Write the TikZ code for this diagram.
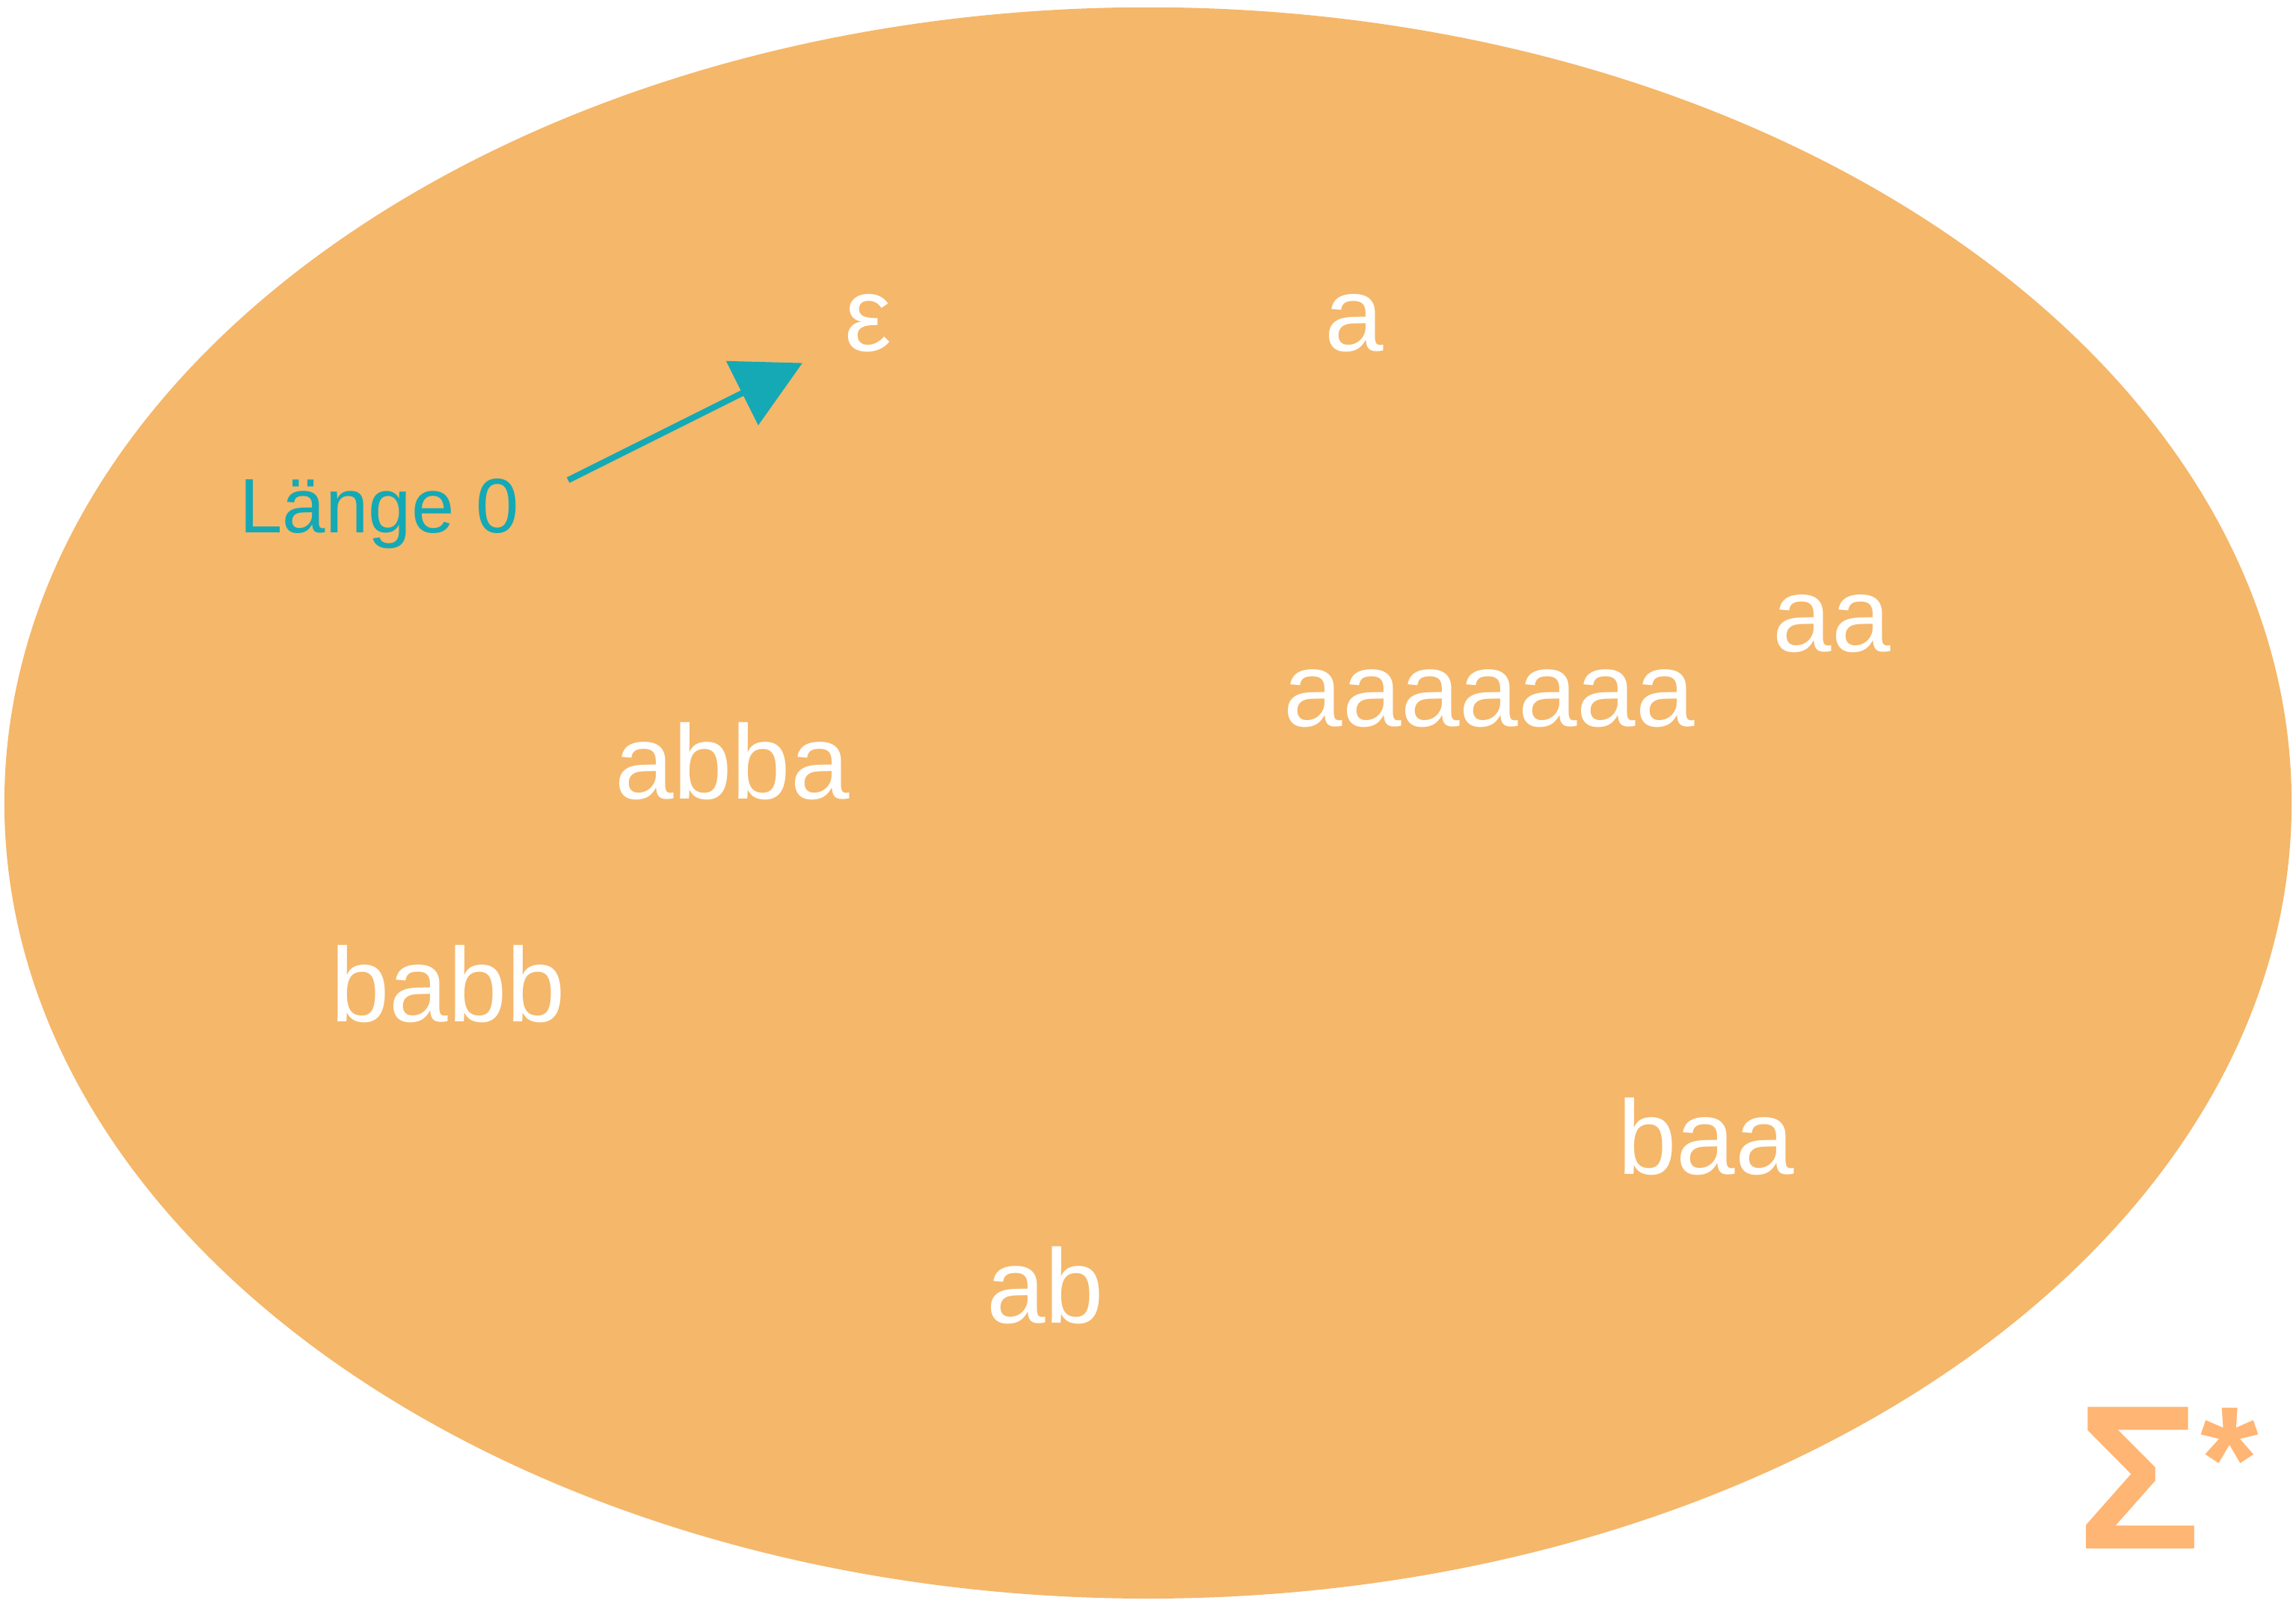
\documentclass[tikz,border=0pt]{standalone}
\usepackage{fontspec}
\setmainfont{Liberation Sans}
\usepackage{tikz}
\usetikzlibrary{arrows.meta}

\definecolor{setfill}{RGB}{245,183,106}
\definecolor{sigmaorange}{RGB}{255,181,115}
\definecolor{lentext}{RGB}{20,169,181}

\begin{document}
\begin{tikzpicture}[x=0.1mm,y=-0.1mm,
  word/.style={anchor=base,text=white,inner sep=0pt,font=\fontsize{20.5}{24}\selectfont},
  lenlabel/.style={anchor=base west,text=lentext,inner sep=0pt,font=\fontsize{15}{18}\selectfont},
  lenarrow/.style={draw=lentext,line width=1.2pt,-{Triangle[length=4.6mm,width=4.8mm]}}]
  \useasboundingbox (0,0) rectangle (1568,1103);
  \path[fill=setfill] (784,548.5) ellipse [x radius=781,y radius=543.5];
  \node[word] (eps) at (593,240) {ε};
  \node[word] (a1) at (925,240) {a};
  \node[word] (a2) at (1251,445) {aa};
  \node[word] (a7) at (1017,496) {aaaaaaa};
  \node[word] (abba) at (500,546) {abba};
  \node[word] (babb) at (306,698) {babb};
  \node[word] (baa) at (1165,802) {baa};
  \node[word] (ab) at (714,904) {ab};
  \node[lenlabel] (len) at (163,364) {Länge 0};
  \coordinate (arrstart) at (388,328);
  \coordinate (arrtip) at (548,248);
  \draw[lenarrow] (arrstart) -- (arrtip);
  \node[anchor=base west,inner sep=0pt,text=sigmaorange,
    font=\fontsize{40}{46}\bfseries\selectfont] (sigma) at (1418,1058)
    {Σ\raisebox{2.6mm}{\fontsize{29}{30}\selectfont*}};
\end{tikzpicture}
\end{document}
